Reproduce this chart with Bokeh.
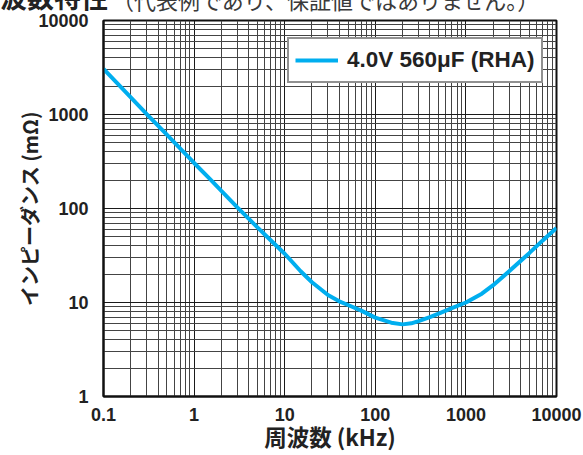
from bokeh.plotting import figure
from bokeh.models import FixedTicker, Legend, LegendItem, Div
from bokeh.layouts import column
from bokeh.embed import file_html
from bokeh.resources import INLINE

# ---- data ----
freq_khz = [0.1, 0.2, 0.3, 0.5, 0.7, 1, 1.5, 2, 3, 4, 5, 7, 10, 15, 20, 30, 40, 50, 70,
            100, 150, 200, 250, 300, 400, 500, 700, 1000, 1500, 2000, 3000, 5000, 7000, 10000]
impedance_mohm = [3050, 1520, 1010, 610, 436, 305, 205, 154, 103, 78, 63, 46, 33, 21.5, 16.4,
                  12.0, 10.3, 9.4, 8.2, 6.9, 6.1, 5.85, 6.0, 6.35, 7.0, 7.6, 8.7, 10.0, 12.4,
                  15.3, 21.5, 33.5, 45.5, 62]
series_name = "4.0V 560μF (RHA)"

x_major = [0.1, 1, 10, 100, 1000, 10000]
x_labels = ["0.1", "1", "10", "100", "1000", "10000"]
y_major = [1, 10, 100, 1000, 10000]
y_labels = ["1", "10", "100", "1000", "10000"]
x_title = "周波数 (kHz)"
y_title = "インピーダンス (mΩ)"
heading = "周波数特性"
note = "（代表例であり、保証値ではありません。）"

minor_mult = [2, 3, 4, 5, 6, 7, 8, 9]
x_minor = [m * d for d in x_major[:-1] for m in minor_mult]
y_minor = [m * d for d in y_major[:-1] for m in minor_mult]

LATIN = "Liberation Sans"
CJK = "Noto Sans CJK JP"

p = figure(width=583, height=443, frame_width=453, frame_height=376,
           x_axis_type="log", y_axis_type="log",
           x_range=(0.1, 10000), y_range=(1, 10000),
           output_backend="svg", toolbar_location=None,
           min_border_left=103, min_border_right=27,
           min_border_top=8, min_border_bottom=59)
p.margin = 0
p.background_fill_color = "white"
p.border_fill_color = "white"
p.outline_line_color = "#111111"
p.outline_line_width = 2

p.xaxis.ticker = FixedTicker(ticks=x_major, minor_ticks=x_minor)
p.yaxis.ticker = FixedTicker(ticks=y_major, minor_ticks=y_minor)
p.xaxis.major_label_overrides = {v: s for v, s in zip(x_major, x_labels)}
p.yaxis.major_label_overrides = {v: s for v, s in zip(y_major, y_labels)}

for ax in (p.xaxis, p.yaxis):
    ax.axis_line_width = 2
    ax.axis_line_color = "#111111"
    ax.major_tick_in = 0
    ax.major_tick_out = 0
    ax.minor_tick_in = 0
    ax.minor_tick_out = 0
    ax.major_label_text_font = LATIN
    ax.major_label_text_font_style = "bold"
    ax.major_label_text_font_size = "18px"
    ax.major_label_text_color = "#222222"
    ax.axis_label_text_font = CJK
    ax.axis_label_text_font_style = "bold"
    ax.axis_label_text_color = "#222222"

p.xaxis.major_label_standoff = 11
p.yaxis.major_label_standoff = 15
p.xaxis.axis_label = x_title
p.yaxis.axis_label = y_title
p.xaxis.axis_label_text_font_size = "22.5px"
p.yaxis.axis_label_text_font_size = "20px"
p.xaxis.axis_label_standoff = -4
p.yaxis.axis_label_standoff = -9

for g in (p.xgrid, p.ygrid):
    g.grid_line_color = "#1a1a1a"
    g.grid_line_width = 1
    g.minor_grid_line_color = "#444444"
    g.minor_grid_line_width = 1

r = p.line(freq_khz, impedance_mohm, line_width=4, line_color="#00AEEF")

legend = Legend(items=[LegendItem(label=series_name, renderers=[r])],
                location=(184, 313))
legend.label_text_font = LATIN
legend.label_text_font_style = "bold"
legend.label_text_font_size = "22.5px"
legend.label_text_color = "#222222"
legend.border_line_color = "#222222"
legend.border_line_width = 2
legend.background_fill_color = "white"
legend.background_fill_alpha = 1
legend.padding = 6
legend.margin = 0
legend.glyph_width = 43
legend.glyph_height = 30
legend.label_height = 30
legend.label_standoff = 9
p.add_layout(legend)

# heading strip: only the lower part of the heading is visible, as in the reference
head_html = (
    '<div style="position:relative;width:583px;height:12px;overflow:hidden;white-space:nowrap;">'
    f'<span style="position:absolute;left:-27px;bottom:2px;font-family:\'{CJK}\';font-size:27px;'
    f'font-weight:bold;color:#222222;line-height:1;">{heading}</span>'
    f'<span style="position:absolute;left:112px;bottom:2px;font-family:\'{CJK}\';font-size:22px;'
    f'color:#3a3a3a;line-height:1;">{note}</span>'
    '</div>'
)
head = Div(text=head_html, width=583, height=12, margin=0)

layout = column(head, p, spacing=0, margin=0)

open("out.html", "w").write(file_html(layout, INLINE))
